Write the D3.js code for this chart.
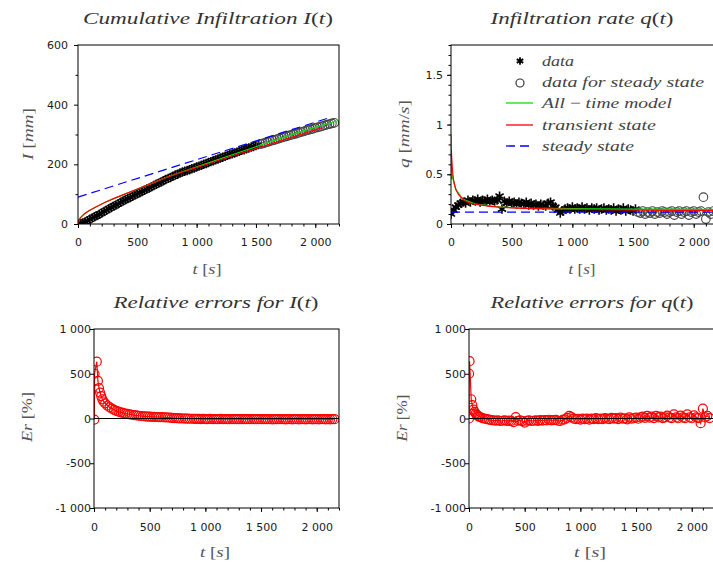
<!DOCTYPE html>
<html><head><meta charset="utf-8">
<script src="https://cdn.jsdelivr.net/npm/d3@7"></script>
<style>
body{margin:0;background:#fff;}
svg{display:block;}
</style></head><body>
<svg id="c" width="713" height="571"></svg>
<script>
// ---------------- DATA ----------------
const tData = [
  0,20,40,60,80,100,120,140,160,180,
  200,220,240,260,280,300,320,340,360,380,
  400,420,440,460,480,500,520,540,560,580,
  600,620,640,660,680,700,720,740,760,780,
  800,820,840,860,880,900,920,940,960,980,
  1000,1020,1040,1060,1080,1100,1120,1140,1160,1180,
  1200,1220,1240,1260,1280,1300,1320,1340,1360,1380,
  1400,1420,1440,1460,1480,1500,1520,1540,1560,1580,
  1600,1620,1640,1660,1680,1700,1720,1740,1760,1780,
  1800,1820,1840,1860,1880,1900,1920,1940,1960,1980,
  2000,2020,2040,2060,2080,2100,2120,2140,2160];
const IData = [
  0,1,3.5,7,11,16,20,24,28,33,
  37,42,46,51,55,60,64,68,73,77,
  81,85,89,93,97,101,105,109,113,117,
  121,125,129,133,137,141,145,149,153,156,
  160,164,167,171,174,177,179,182,185,188,
  191,194,197,200,203,206,209,212,215,218,
  221,224,227,230,233,235,238,241,244,247,
  249,252,255,258,260,263,266,268,270,273,
  275,278,280,282,285,287,290,292,294,297,
  299,301,303,306,308,310,313,315,317,319,
  322,324,326,328,331,333,335,337,339];
const qData = [
  0.10,0.14,0.17,0.19,0.21,0.22,0.21,0.24,0.22,0.24,
  0.23,0.25,0.22,0.24,0.23,0.25,0.22,0.24,0.23,0.24,
  0.28,0.15,0.23,0.21,0.23,0.21,0.22,0.20,0.22,0.21,
  0.20,0.22,0.19,0.21,0.19,0.20,0.18,0.20,0.19,0.18,
  0.21,0.22,0.18,0.17,0.14,0.11,0.13,0.15,0.16,0.15,
  0.17,0.15,0.16,0.15,0.17,0.15,0.16,0.14,0.16,0.15,
  0.16,0.14,0.15,0.16,0.14,0.15,0.14,0.16,0.13,0.15,
  0.14,0.16,0.13,0.15,0.14,0.13,0.15,0.12,0.11,0.13,
  0.10,0.12,0.11,0.13,0.10,0.12,0.11,0.13,0.12,0.10,
  0.12,0.13,0.09,0.12,0.13,0.10,0.12,0.13,0.09,0.12,
  0.13,0.10,0.12,0.13,0.27,0.05,0.12,0.10,0.13];
const steadyFrom = 1540;   // data used for steady state (circles)

// cumulative infiltration models
const tRedI  = [0,2,5,10,15,25,40,60,100,150,226,300,400,480,600,733,850,958,1100,1300,1500,1700,1900,2060];
const IRed   = [0,6,10,14,18,23,29,36,46,57,72,85,101,114,133,154,170,184,202,228,253,278,303,323];
const tGreenI = [0,2,5,10,20,40,60,100,150,226,300,400,500,600,733,850,958,1100,1300,1500,1700,1900,2100,2200];
const IGreen  = [0,5,9,13,20,29,36,46,57,72,85,101,117,133,154,171,186,205,232,259,286,312,336,347];
const tBlueI = [0,2110];
const IBlue  = [90,355];

// infiltration rate models
const tRedQ = [3,5,10,15,20,30,40,60,80,100,130,160,200,250,320,400,500,600,800,1000,1200,1400,1600,1800,2000,2200];
const qRed  = [0.75,0.68,0.58,0.5,0.45,0.39,0.35,0.3,0.27,0.25,0.225,0.21,0.2,0.19,0.178,0.17,0.163,0.158,0.152,0.148,0.145,0.142,0.14,0.138,0.137,0.136];
const tGreenQ = [1,2,3,4,6,10,20,40,100,200,400,600,800,1000,1200,1500,1800,2000,2200];
const qGreen  = [0.9,0.75,0.6,0.5,0.45,0.5,0.44,0.345,0.248,0.2,0.171,0.16,0.156,0.153,0.151,0.149,0.148,0.147,0.146];
const tBlueQ = [0,2200];
const qBlue  = [0.12,0.12];

// relative errors (%)
const tErIEarly = [3,5,25,35,45,55,65,75,85];
const ErIEarly  = [-12,500,635,420,340,290,250,215,190];
const ErIGrid = [   // t = 100 ... 2160 every 20 s
  170,145,126,110,97,86,77,69,62,56,
  51,46,42,38,34,31,28,25,23,21,
  20,19,18,17,16,15,14,13,11,9,
  7,5,4,2,1,0,-1,-2,-3,-3,
  -4,-5,-4,-6,-5,-6,-7,-5,-6,-7,
  -6,-7,-5,-6,-8,-6,-7,-6,-8,-7,
  -6,-8,-7,-6,-8,-7,-8,-6,-7,-8,
  -7,-8,-6,-8,-7,-9,-7,-8,-6,-8,
  -7,-9,-8,-7,-9,-8,-7,-9,-8,-8,
  -9,-8,-7,-9,-8,-7,-9,-8,-7,-10,
  -8,-9,-7,-8];
const tErQEarly = [0,1,5,20,30,40,50,60,70,80,90];
const ErQEarly  = [0,500,640,215,150,100,75,55,40,30,22];
const ErQGrid = [   // t = 100 ... 2160 every 20 s
  15,5,-2,-8,-12,-18,-22,-25,-20,-28,
  -25,-20,-28,-24,-26,-40,15,-25,-20,-30,
  -45,-25,-20,-28,-25,-22,-26,-18,-24,-17,
  -21,-14,-20,-18,-15,-25,-28,-14,-10,8,
  30,15,-2,-6,-3,-12,-2,-7,-2,-12,
  -1,-7,4,-7,-2,-8,5,-2,-8,6,
  -1,5,-8,9,-3,2,-9,12,-3,3,
  10,-3,12,22,6,30,10,20,4,30,
  12,20,5,12,32,12,4,45,12,3,
  32,12,4,45,12,3,35,12,4,-52,
  110,12,30,5];

// ticks
const xTicks = [0,500,1000,1500,2000];
const xTickLabels = ["0","500","1 000","1 500","2 000"];
const ITicks = [0,200,400,600];
const ITickLabels = ["0","200","400","600"];
const qTicks = [0,0.5,1,1.5];
const qTickLabels = ["0","0.5","1","1.5"];
const ErTicks = [-1000,-500,0,500,1000];
const ErTickLabels = ["-1 000","-500","0","500","1 000"];

const legendLabels = ["data","data for steady state","All \u2212 time model","transient state","steady state"];

// ---------------- DRAW ----------------
const svg = d3.select("#c");
const serif = "'Liberation Serif','Times New Roman',serif";
const sans = "'DejaVu Sans','Liberation Sans',sans-serif";
const GREEN = "#10dd10", RED = "#ff0000", BLUE = "#0000ff";

const pts = (xs, ys) => xs.map((v,i)=>[v, ys[i]]);
const dataPts = pts(tData, IData);
const qPts = pts(tData, qData);
const ErIPts = pts(tErIEarly, ErIEarly).concat(pts(tData.filter(t=>t>=100), ErIGrid));
const ErQPts = pts(tErQEarly, ErQEarly).concat(pts(tData.filter(t=>t>=100), ErQGrid));

const asteriskType = {
  draw(ctx, size) {
    const r = Math.sqrt(size)*0.6, t = r/2, u = t*Math.sqrt(3);
    ctx.moveTo(0, r); ctx.lineTo(0, -r);
    ctx.moveTo(-u, -t); ctx.lineTo(u, t);
    ctx.moveTo(-u, t); ctx.lineTo(u, -t);
  }
};
const asterisk = d3.symbol().type(asteriskType).size(62);
const asteriskLeg = d3.symbol().type(asteriskType).size(40);

function panel(id, box, xDom, yDom) {
  const x = d3.scaleLinear().domain(xDom).range([box.x0, box.x1]);
  const y = d3.scaleLinear().domain(yDom).range([box.y1, box.y0]);
  svg.append("clipPath").attr("id", id).append("rect")
    .attr("x", box.x0).attr("y", box.y0).attr("width", box.x1-box.x0).attr("height", box.y1-box.y0);
  const g = svg.append("g");
  const plot = g.append("g").attr("clip-path", `url(#${id})`);
  return {x, y, g, plot, box};
}

function styleAxis(s) {
  s.select(".domain").remove();
  s.selectAll("line").attr("stroke", "#000");
  s.selectAll("text").attr("font-family", sans).attr("font-size", 11).attr("fill", "#1a1a1a");
}

function axes(p, o) {
  const {x, y, g, box} = p;
  g.append("g").attr("transform", `translate(0,${box.y1})`)
    .call(d3.axisBottom(x).tickValues(o.xMinor).tickFormat("").tickSize(2.5).tickSizeOuter(0)).call(styleAxis);
  g.append("g").attr("transform", `translate(0,${box.y1})`)
    .call(d3.axisBottom(x).tickValues(xTicks).tickFormat((d,i)=>xTickLabels[i]).tickSize(4).tickPadding(o.xPad).tickSizeOuter(0)).call(styleAxis);
  if (o.yMinor) g.append("g").attr("transform", `translate(${box.x0},0)`)
    .call(d3.axisLeft(y).tickValues(o.yMinor).tickFormat("").tickSize(2.5).tickSizeOuter(0)).call(styleAxis);
  g.append("g").attr("transform", `translate(${box.x0},0)`)
    .call(d3.axisLeft(y).tickValues(o.yTicks).tickFormat((d,i)=>o.yLabels[i]).tickSize(4).tickPadding(o.yPad).tickSizeOuter(0)).call(styleAxis);
  g.append("rect").attr("x", box.x0).attr("y", box.y0).attr("width", box.x1-box.x0).attr("height", box.y1-box.y0)
    .attr("fill", "none").attr("stroke", "#000").attr("stroke-width", 1);
}

// math-style text: parts = [[string, italic]]
function mtext(parent, x, y, parts, size, len, opts={}) {
  const t = parent.append("text").attr("x", x).attr("y", y)
    .attr("font-family", serif).attr("font-size", size).attr("fill", opts.fill || "#333")
    .attr("text-anchor", opts.anchor || "middle");
  if (len) t.attr("textLength", len).attr("lengthAdjust", "spacingAndGlyphs");
  if (opts.rotate) t.attr("transform", `rotate(-90,${x},${y})`);
  parts.forEach(([s, it]) => t.append("tspan").text(s).attr("font-style", it ? "italic" : "normal"));
  return t;
}

const line = (p) => d3.line().x(d=>p.x(d[0])).y(d=>p.y(d[1]));
const tLabel = [["t ",1],["[",0],["s",1],["]",0]];

// ===== Panel 1: Cumulative infiltration =====
const p1 = panel("c1", {x0:78, x1:339, y0:45, y1:224}, [0,2200], [0,600]);
p1.plot.selectAll(".a").data(dataPts.filter(d=>d[0] < steadyFrom)).join("path")
  .attr("d", asterisk).attr("transform", d=>`translate(${p1.x(d[0])},${p1.y(d[1])})`)
  .attr("fill","none").attr("stroke","#000").attr("stroke-width",1.6);
p1.plot.selectAll(".o").data(dataPts.filter(d=>d[0] >= steadyFrom)).join("circle")
  .attr("cx", d=>p1.x(d[0])).attr("cy", d=>p1.y(d[1])).attr("r", 4.3)
  .attr("fill","none").attr("stroke","#444").attr("stroke-width",1.1);
p1.plot.append("path").attr("d", line(p1)(pts(tGreenI, IGreen))).attr("fill","none").attr("stroke",GREEN).attr("stroke-width",1.2);
p1.plot.append("path").attr("d", line(p1)(pts(tRedI, IRed))).attr("fill","none").attr("stroke",RED).attr("stroke-width",1.2);
p1.plot.append("path").attr("d", line(p1)(pts(tBlueI, IBlue))).attr("fill","none").attr("stroke",BLUE).attr("stroke-width",1.2).attr("stroke-dasharray","9,5");
axes(p1, {xMinor: d3.range(0,2201,100), xPad: 10, yTicks: ITicks, yLabels: ITickLabels, yMinor: [100,300,500], yPad: 6});
mtext(svg, 208, 24, [["Cumulative Infiltration I",1],["(",0],["t",1],[")",0]], 16, 250);
mtext(svg, 207, 274, tLabel, 15, 29, {fill:"#555"});
mtext(svg, 33, 134, [["I ",1],["[",0],["mm",1],["]",0]], 15, 52, {fill:"#555", rotate:true});

// ===== Panel 2: Infiltration rate =====
const p2 = panel("c2", {x0:451, x1:718, y0:45, y1:224}, [0,2200], [0,1.8]);
p2.plot.selectAll(".a").data(qPts.filter(d=>d[0] < steadyFrom)).join("path")
  .attr("d", asterisk).attr("transform", d=>`translate(${p2.x(d[0])},${p2.y(d[1])})`)
  .attr("fill","none").attr("stroke","#000").attr("stroke-width",1.6);
p2.plot.selectAll(".o").data(qPts.filter(d=>d[0] >= steadyFrom)).join("circle")
  .attr("cx", d=>p2.x(d[0])).attr("cy", d=>p2.y(d[1])).attr("r", 4.3)
  .attr("fill","none").attr("stroke","#444").attr("stroke-width",1.1);
p2.plot.append("path").attr("d", line(p2)(pts(tGreenQ, qGreen))).attr("fill","none").attr("stroke",GREEN).attr("stroke-width",1.4);
p2.plot.append("path").attr("d", line(p2)(pts(tRedQ, qRed))).attr("fill","none").attr("stroke",RED).attr("stroke-width",1.2);
p2.plot.append("path").attr("d", line(p2)(pts(tBlueQ, qBlue))).attr("fill","none").attr("stroke",BLUE).attr("stroke-width",1.3).attr("stroke-dasharray","9,5");
axes(p2, {xMinor: d3.range(0,2201,100), xPad: 10, yTicks: qTicks, yLabels: qTickLabels, yMinor: d3.range(0,1.81,0.1), yPad: 4});
mtext(svg, 582, 24, [["Infiltration rate q",1],["(",0],["t",1],[")",0]], 16, 183);
mtext(svg, 582, 274, tLabel, 15, 27, {fill:"#555"});
mtext(svg, 409, 134, [["q ",1],["[",0],["mm",1],["/",0],["s",1],["]",0]], 15, 68, {fill:"#555", rotate:true});

// legend
const lg = svg.append("g");
const legY = [61, 82, 103, 125, 146];
const legW = [32, 162, 130, 114, 92];
lg.append("path").attr("d", asteriskLeg).attr("transform", `translate(520,${legY[0]})`).attr("fill","none").attr("stroke","#000").attr("stroke-width",1.8);
lg.append("circle").attr("cx",520).attr("cy",legY[1]+1).attr("r",4).attr("fill","none").attr("stroke","#333").attr("stroke-width",1.2);
lg.append("line").attr("x1",506).attr("x2",533).attr("y1",legY[2]).attr("y2",legY[2]).attr("stroke",GREEN).attr("stroke-width",1.3);
lg.append("line").attr("x1",506).attr("x2",533).attr("y1",legY[3]).attr("y2",legY[3]).attr("stroke",RED).attr("stroke-width",1.3);
lg.append("line").attr("x1",506).attr("x2",533).attr("y1",legY[4]).attr("y2",legY[4]).attr("stroke",BLUE).attr("stroke-width",1.3).attr("stroke-dasharray","9,5");
legendLabels.forEach((s,i) => {
  const parts = s.includes("\u2212") ? [["All ",1],["\u2212",0],[" time model",1]] : [[s,1]];
  mtext(lg, 542, legY[i]+4.5, parts, 15, legW[i], {anchor:"start", fill:"#444"});
});

// ===== Panel 3: errors for I =====
const p3 = panel("c3", {x0:94, x1:339, y0:329, y1:508}, [0,2200], [-1000,1000]);
p3.plot.append("path").attr("d", line(p3)(ErIPts)).attr("fill","none").attr("stroke",RED).attr("stroke-width",1.2);
p3.plot.selectAll(".o").data(ErIPts).join("circle")
  .attr("cx", d=>p3.x(d[0])).attr("cy", d=>p3.y(d[1])).attr("r", 4.5)
  .attr("fill","none").attr("stroke",RED).attr("stroke-width",1.2);
p3.plot.append("path").attr("d", line(p3)([[0,0],[2200,0]])).attr("stroke","#000").attr("stroke-width",1.2);
axes(p3, {xMinor: d3.range(0,2201,100), xPad: 11, yTicks: ErTicks, yLabels: ErTickLabels, yPad: -1});
mtext(svg, 216, 308, [["Relative errors for I",1],["(",0],["t",1],[")",0]], 16, 205);
mtext(svg, 215, 557, tLabel, 15, 30, {fill:"#555"});
mtext(svg, 32, 417, [["Er ",1],["[",0],["%",0],["]",0]], 15, 50, {fill:"#555", rotate:true});

// ===== Panel 4: errors for q =====
const p4 = panel("c4", {x0:469, x1:714, y0:329, y1:508}, [0,2200], [-1000,1000]);
p4.plot.append("path").attr("d", line(p4)(ErQPts)).attr("fill","none").attr("stroke",RED).attr("stroke-width",1.2);
p4.plot.selectAll(".o").data(ErQPts).join("circle")
  .attr("cx", d=>p4.x(d[0])).attr("cy", d=>p4.y(d[1])).attr("r", 4.5)
  .attr("fill","none").attr("stroke",RED).attr("stroke-width",1.2);
p4.plot.append("path").attr("d", line(p4)([[0,0],[2200,0]])).attr("stroke","#000").attr("stroke-width",1.2);
axes(p4, {xMinor: d3.range(0,2201,100), xPad: 11, yTicks: ErTicks, yLabels: ErTickLabels, yPad: -1});
mtext(svg, 592, 308, [["Relative errors for q",1],["(",0],["t",1],[")",0]], 16, 203);
mtext(svg, 590, 557, tLabel, 15, 32, {fill:"#555"});
mtext(svg, 407, 418, [["Er ",1],["[",0],["%",0],["]",0]], 15, 47, {fill:"#555", rotate:true});
</script>
</body></html>
